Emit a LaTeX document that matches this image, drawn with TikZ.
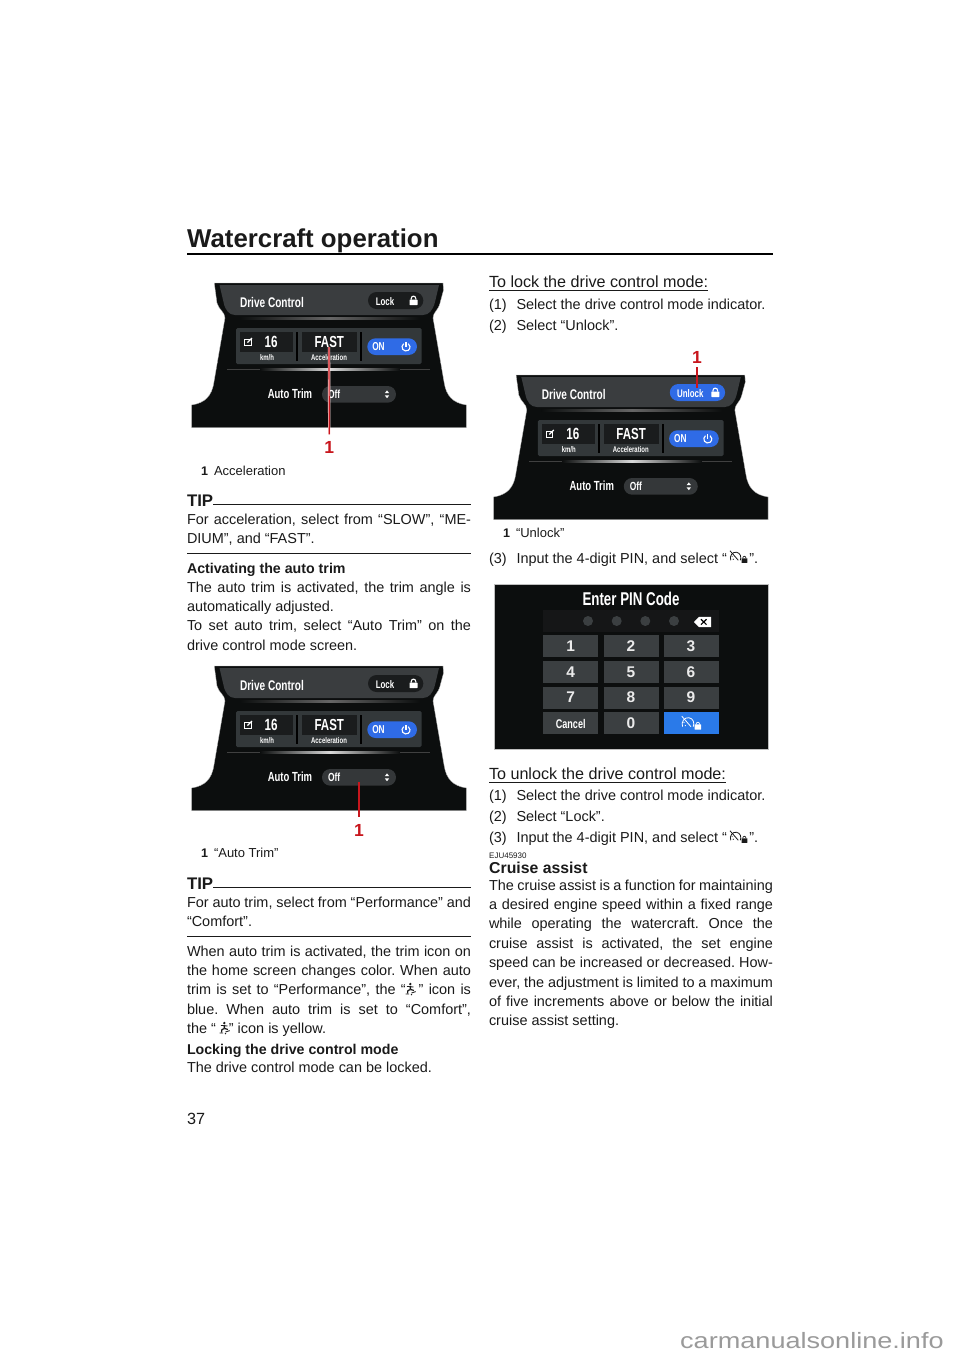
\documentclass[tikz,border=0pt]{standalone}
\usepackage{fontspec}
\setmainfont{Liberation Sans}
\newfontfamily\condfont[FakeStretch=0.72]{Liberation Sans}
\newfontfamily\widefont[FakeStretch=1.22]{Liberation Sans}
\usetikzlibrary{calc}
\definecolor{ink}{HTML}{1A1A1A}
\definecolor{scrblack}{HTML}{0C0E0E}
\definecolor{hdrgray}{HTML}{3A3D3F}
\definecolor{panelgray}{HTML}{33383A}
\definecolor{boxdark}{HTML}{1A1C1D}
\definecolor{keygray}{HTML}{3B3F41}
\definecolor{pillblue}{HTML}{2F6BE6}
\definecolor{calloutred}{HTML}{C8161D}
\definecolor{wmgray}{HTML}{9A9A9A}
\newcommand{\fs}[1]{\fontsize{#1}{#1}\selectfont}
\tikzset{
  x=1pt,y=-1pt,
  para/.style={anchor=north west,inner sep=0pt,outer sep=0pt,text width=284pt,align=justify,
    font=\fontsize{14.45}{19.42}\selectfont,text=ink,
    execute at begin node={\frenchspacing\tolerance=9999\hbadness=10000\hfuzz=20pt\hyphenpenalty=10000\rule{0pt}{12pt}}},
  txt/.style={anchor=base west,inner sep=0pt,outer sep=0pt,font=\fs{14.45},text=ink},
  captxt/.style={anchor=base west,inner sep=0pt,outer sep=0pt,font=\fs{13},text=ink},
  capnum/.style={anchor=base west,inner sep=0pt,outer sep=0pt,font=\fs{12.5}\bfseries,text=ink},
  boldhead/.style={anchor=base west,inner sep=0pt,outer sep=0pt,font=\fs{14.2}\bfseries,text=ink},
  sect/.style={anchor=base west,inner sep=0pt,outer sep=0pt,font=\fs{16.15},text=ink},
  tiphead/.style={anchor=base west,inner sep=0pt,outer sep=0pt,font=\fs{16.8}\bfseries,text=ink},
  redlabel/.style={inner sep=0pt,outer sep=1pt,font=\fs{17.5}\bfseries,text=calloutred},
  stext/.style={inner sep=0pt,outer sep=0pt,text=white,font=\condfont\bfseries\fs{13.5}},
  halo/.style={draw=white!85!red,line width=2.4pt},
  calloutline/.style={draw=calloutred,line width=1.2pt},
  thinrule/.style={draw=ink,line width=0.8pt},
  keybox/.style={fill=keygray},
  keytxt/.style={inner sep=0pt,text=white!92!black,font=\fs{15.5}\bfseries},
}
\newcommand{\LockIcon}[3]{% x, y, colour
  \fill[#3,rounded corners=0.5pt] (#1-4,#2-1) rectangle (#1+4,#2+4.5);
  \draw[#3,line width=1.1pt] (#1-2.3,#2-1) -- (#1-2.3,#2-2) arc (180:0:2.3 and -2.4) -- (#1+2.3,#2-1);
}
\newcommand{\DriveScreen}[6]{% prefix, dx, dy, pill colour, pill label, label x
\begin{scope}[shift={(#2,#3)}]
  \fill[scrblack,draw=black!25,line width=0.3pt] (214.3,283) -- (443,283) -- (443.5,290) -- (440,303)
    .. controls (438,311) and (433,312) .. (433,318)
    -- (444,382) .. controls (446,396) and (453,403) .. (466.3,405)
    -- (466.3,427.7) -- (191.7,427.7) -- (191.7,405)
    .. controls (205,403) and (212,396) .. (214,382)
    -- (225,318) .. controls (225,312) and (219,310) .. (217,303) -- cycle;
  \fill[hdrgray] (219.5,285) -- (439,285) -- (435,302) .. controls (433,310) and (429,315) .. (423,315)
    -- (235,315) .. controls (229,315) and (225,310) .. (223.5,302) -- cycle;
  \shade[left color=scrblack,right color=scrblack,middle color=black!60] (240,317.5) rectangle (420,319);
  \node[stext,anchor=base west,font=\condfont\bfseries\fs{14}] (#1title) at (240,307.5) {Drive Control};
  \fill[#4,rounded corners=8.5pt] (368,292) rectangle (423.3,309);
  \node[stext,font=\condfont\bfseries\fs{11}] (#1pill) at (#6,301.5) {#5};
  \LockIcon{413.5}{300.5}{white}
  \fill[panelgray,rounded corners=1.5pt] (236,328) rectangle (421.7,364);
  \fill[boxdark] (240,332) rectangle (293,352);
  \fill[boxdark] (302,332) rectangle (357.3,352);
  \fill[black] (296.2,332) rectangle (298.2,361);
  \fill[black] (360.3,332) rectangle (362.3,361);
  \draw[white,line width=0.8pt] (244.8,339.5) rectangle (251,345.2);
  \draw[white,line width=1.2pt] (247.5,342.5) -- (252,338);
  \node[stext,font=\condfont\bfseries\fs{16.2}] (#1speed) at (271,342.2) {16};
  \node[stext,font=\condfont\bfseries\fs{8.3}] (#1unit) at (267,357.2) {km/h};
  \node[stext,font=\condfont\bfseries\fs{16}] (#1fast) at (329.3,342.2) {FAST};
  \node[stext,font=\condfont\bfseries\fs{8.3}] (#1accel) at (329,357.2) {Acceleration};
  \fill[pillblue,rounded corners=8.3pt] (367.3,338.3) rectangle (417,355);
  \node[stext,font=\condfont\bfseries\fs{11.5}] (#1on) at (378.5,347) {ON};
  \draw[white,line width=1.1pt] (403.7,343.7) arc (-125:-415:4);
  \draw[white,line width=1.1pt] (406,342) -- (406,347);
  \shade[left color=scrblack,right color=scrblack,middle color=white!85!black] (260,368.9) rectangle (400,370);
  \draw[black!75,line width=0.4pt] (227,369.4) -- (260,369.4) (400,369.4) -- (430,369.4);
  \node[stext,font=\condfont\bfseries\fs{13.2}] (#1trim) at (290,394) {Auto Trim};
  \fill[hdrgray!90!black,rounded corners=8.3pt] (322,386) rectangle (396,402.7);
  \node[stext,anchor=west,font=\condfont\bfseries\fs{11.7}] (#1off) at (328,394.5) {Off};
  \fill[white] (384.8,393.2) -- (389.2,393.2) -- (387,390.4) -- cycle;
  \fill[white] (384.8,395.4) -- (389.2,395.4) -- (387,398.2) -- cycle;
\end{scope}}
\newcommand{\SmallGauge}[4]{% x, y, scale, colour
  \begin{scope}[shift={(#1,#2)},scale=#3]
    \draw[#4,line width=0.8pt] (-4.6,3) .. controls (-6,-0.5) and (-3,-4) .. (0,-3.4) .. controls (3,-3) and (4.2,0.5) .. (3,3);
    \draw[#4,line width=0.8pt] (-5.2,-4.6) -- (1.4,3);
    \fill[#4] (-2.6,2.2) circle (0.45);
    \fill[#4] (-3.5,0) circle (0.45);
    \fill[#4,rounded corners=0.2pt] (4,1.4) rectangle (8.6,5);
    \draw[#4,line width=0.7pt] (5,1.4) arc (180:0:1.3 and -1.6);
  \end{scope}}
\newcommand{\Surfer}[3]{%
  \begin{scope}[shift={(#1,#2)}]
    \fill[#3] (-0.2,-6) circle (1.3);
    \draw[#3,line width=1.5pt] (-0.2,-4) -- (0,-0.5);
    \draw[#3,line width=0.8pt] (-3.5,-3.6) -- (3,-3);
    \draw[#3,line width=1.2pt] (0,-0.5) -- (-2.6,0.6) -- (-3,3.5);
    \draw[#3,line width=1.2pt] (0,-0.5) -- (3.4,0.4);
    \draw[#3,line width=0.9pt] (-5,4) -- (-1.5,4) (1,3) -- (5.2,1.6);
    \fill[#3] (1,4.6) circle (0.8);
  \end{scope}}
\begin{document}
\begin{tikzpicture}
\useasboundingbox (0,0) rectangle (960,1358);
\fill[white] (0,0) rectangle (960,1358);

% Title
\node[anchor=base west,inner sep=0pt,font=\fs{25.8}\bfseries,text=ink] (title) at (187,247.5) {Watercraft operation};
\coordinate (ruleL) at (187,254); \coordinate (ruleR) at (773,254);
\draw[black,line width=2pt] (ruleL) -- (ruleR);

% Left column, screen 1
\DriveScreen{a}{0}{0}{boxdark}{Lock}{385}
\coordinate (a1) at (329,347);
\node[redlabel] (a1lab) at (329.3,447.5) {1};
\draw[halo,shorten >=6pt] (a1) -- (a1lab);
\draw[calloutline,shorten >=6pt] (a1) -- (a1lab);
\node[capnum] (a1n) at (201,475) {1};
\node[captxt] (a1c) at (214,475) {Acceleration};

\node[tiphead] (tip1) at (187,506) {TIP};
\coordinate (tip1e) at (471,504.5);
\draw[thinrule] (tip1.base east |- tip1e) -- (tip1e);
\node[para] (p1) at (187,512) {For acceleration, select from “SLOW”, “ME-\linebreak DIUM”, and “FAST”.};
\coordinate (r1a) at (187,553.5); \coordinate (r1b) at (471,553.5);
\draw[thinrule] (r1a) -- (r1b);
\node[boldhead] (h1) at (187,573.5) {Activating the auto trim};
\node[para] (p2) at (187,580) {The auto trim is activated, the trim angle is\linebreak automatically adjusted.\newline To set auto trim, select “Auto Trim” on the\linebreak drive control mode screen.};

% Left column, screen 2
\DriveScreen{b}{0}{383}{boxdark}{Lock}{385}
\coordinate (b1) at (359,782);
\node[redlabel] (b1lab) at (359,830) {1};
\draw[halo,shorten >=6pt] (b1) -- (b1lab);
\draw[calloutline,shorten >=6pt] (b1) -- (b1lab);
\node[capnum] (b1n) at (201,857) {1};
\node[captxt] (b1c) at (214,857) {“Auto Trim”};

\node[tiphead] (tip2) at (187,889) {TIP};
\coordinate (tip2e) at (471,887.5);
\draw[thinrule] (tip2.base east |- tip2e) -- (tip2e);
\node[para] (p3) at (187,895) {For auto trim, select from “Performance” and\linebreak “Comfort”.};
\coordinate (r2a) at (187,936.5); \coordinate (r2b) at (471,936.5);
\draw[thinrule] (r2a) -- (r2b);
\node[para] (p4) at (187,944) {When auto trim is activated, the trim icon on\linebreak the home screen changes color. When auto\linebreak trim is set to “Performance”, the “\hspace*{13pt}” icon is\linebreak blue. When auto trim is set to “Comfort”,\linebreak the “\hspace*{13pt}” icon is yellow.};
\Surfer{410.5}{990}{ink}
\Surfer{224.5}{1029}{ink}
\node[boldhead] (h2) at (187,1054.5) {Locking the drive control mode};
\node[para] (p5) at (187,1060) {The drive control mode can be locked.};
\node[anchor=base west,inner sep=0pt,font=\fs{16.2},text=ink] (pg) at (187,1124) {37};

% Right column
\node[sect] (s1) at (489,287) {To lock the drive control mode:};
\draw[ink,line width=0.7pt] ($(s1.base west)+(0,3)$) -- ($(s1.base east)+(0,3)$);
\node[txt] (l1n) at (489,309) {(1)};
\node[txt] (l1) at (516.5,309) {Select the drive control mode indicator.};
\node[txt] (l2n) at (489,330) {(2)};
\node[txt] (l2) at (516.5,330) {Select “Unlock”.};

\DriveScreen{c}{301.8}{92}{pillblue}{Unlock}{388.5}
\coordinate (c1) at (697,388);
\node[redlabel] (c1lab) at (697,357) {1};
\draw[halo,shorten <=3pt] (c1lab) -- (c1);
\draw[calloutline,shorten <=3pt] (c1lab) -- (c1);
\node[capnum] (c1n) at (503,537.5) {1};
\node[captxt] (c1c) at (516,537.5) {“Unlock”};
\node[txt] (l3n) at (489,563) {(3)};
\node[txt] (l3) at (516.5,563) {Input the 4-digit PIN, and select “\hspace*{22.5pt}”.};
\SmallGauge{736.5}{556.5}{1.25}{ink}

% PIN screen
\fill[scrblack,draw=black!25,line width=0.3pt] (494,584.5) rectangle (768.5,749);
\node[stext,font=\condfont\bfseries\fs{18.5}] (pin) at (631,598.7) {Enter PIN Code};
\fill[boxdark!80!black] (543.3,610) rectangle (718.5,631.7);
\foreach \dx in {588,616.7,645.3,674} \fill[keygray] (\dx,621) circle (5);
\fill[white] (694,622) -- (699,616.8) -- (711,616.8) -- (711,627) -- (699,627) -- cycle;
\draw[black,line width=1.2pt] (701,619.2) -- (706.5,624.6) (706.5,619.2) -- (701,624.6);
\foreach \cx/\cy/\lab/\nm in {570.7/646/1/k1,631/646/2/k2,691/646/3/k3,570.7/672/4/k4,631/672/5/k5,691/672/6/k6,570.7/697.5/7/k7,631/697.5/8/k8,691/697.5/9/k9,631/723/0/k0}{
  \fill[keybox] (\cx-27.5,\cy-11) rectangle (\cx+27.5,\cy+11);
  \node[keytxt] (\nm) at (\cx,\cy) {\lab};
}
\fill[keybox] (543.2,712) rectangle (598.2,733.7);
\node[stext,font=\condfont\bfseries\fs{12.6}] (kcancel) at (570.7,723.5) {Cancel};
\fill[pillblue!90!cyan] (663.7,712) rectangle (718.7,733.7);
\SmallGauge{689}{722.5}{1.4}{white}

% Unlock section
\node[sect] (s2) at (489,779) {To unlock the drive control mode:};
\draw[ink,line width=0.7pt] ($(s2.base west)+(0,3)$) -- ($(s2.base east)+(0,3)$);
\node[txt] (u1n) at (489,800.5) {(1)};
\node[txt] (u1) at (516.5,800.5) {Select the drive control mode indicator.};
\node[txt] (u2n) at (489,821.5) {(2)};
\node[txt] (u2) at (516.5,821.5) {Select “Lock”.};
\node[txt] (u3n) at (489,842.5) {(3)};
\node[txt] (u3) at (516.5,842.5) {Input the 4-digit PIN, and select “\hspace*{22.5pt}”.};
\SmallGauge{736.5}{836.5}{1.25}{ink}

\node[anchor=base west,inner sep=0pt,font=\fs{8},text=ink] (code) at (489,858) {EJU45930};
\node[anchor=base west,inner sep=0pt,font=\fs{15.8}\bfseries,text=ink] (h3) at (489,873) {Cruise assist};
\node[para] (p6) at (489,878) {The cruise assist is a function for maintaining\linebreak a desired engine speed within a fixed range\linebreak while operating the watercraft. Once the\linebreak cruise assist is activated, the set engine\linebreak speed can be increased or decreased. How-\linebreak ever, the adjustment is limited to a maximum\linebreak of five increments above or below the initial\linebreak cruise assist setting.};

% Watermark
\node[anchor=base west,inner sep=0pt,font=\widefont\fs{22.2},text=wmgray] (wm) at (680,1348) {carmanualsonline.info};
\end{tikzpicture}
\end{document}
